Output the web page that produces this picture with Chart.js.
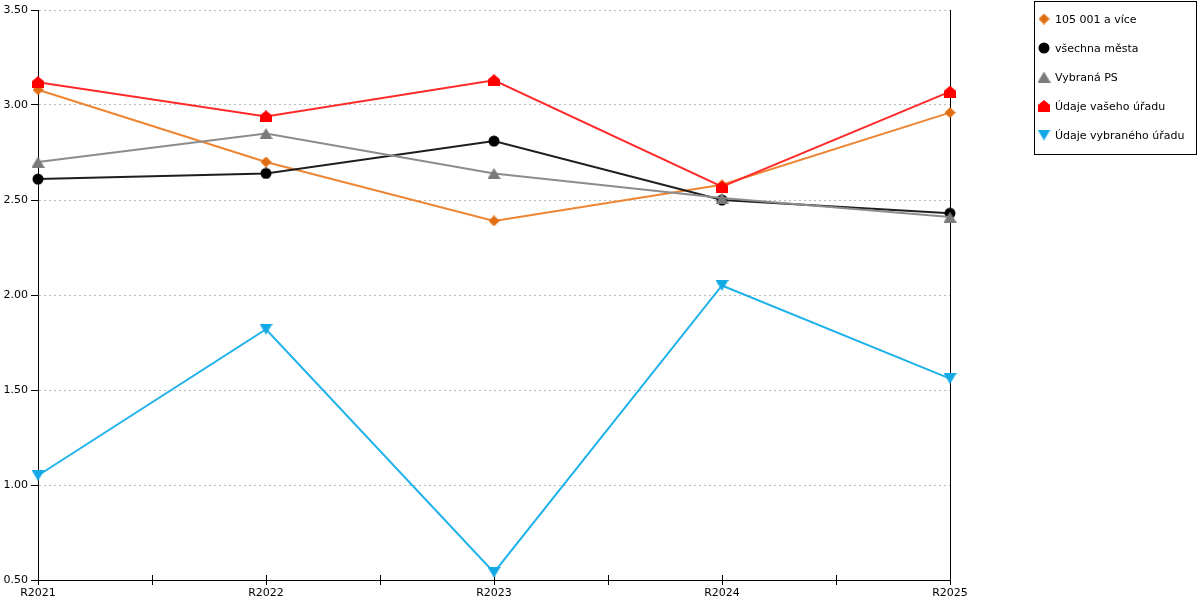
<!DOCTYPE html>
<html lang="cs">
<head>
    <meta charset="UTF-8">
    <title>Vývoj ukazatele R2021 - R2025</title>
    <script src="https://cdn.jsdelivr.net/npm/chart.js"></script>
    <style>
        html, body { margin: 0; padding: 0; background: #fff; }
        #wrap { width: 1200px; height: 600px; }
    </style>
</head>
<body>
    <div id="wrap">
        <canvas id="myChart" width="1200" height="600"></canvas>
    </div>

    <script>
        // Data
        var years = ['R2021', 'R2022', 'R2023', 'R2024', 'R2025'];
        var seriesNames = ['105 001 a více', 'všechna města', 'Vybraná PS', 'Údaje vašeho úřadu', 'Údaje vybraného úřadu'];
        var velkaMesta = [3.08, 2.70, 2.39, 2.58, 2.96];
        var vsechnaMesta = [2.61, 2.64, 2.81, 2.50, 2.43];
        var vybranaPS = [2.70, 2.85, 2.64, 2.51, 2.41];
        var vasUrad = [3.12, 2.94, 3.13, 2.57, 3.07];
        var vybranyUrad = [1.05, 1.82, 0.54, 2.05, 1.56];
        var yTicks = [0.5, 1.0, 1.5, 2.0, 2.5, 3.0, 3.5];

        var FONT = 'DejaVu Sans';

        // Small canvases used as point markers (chart + legend)
        function makeMarker(w, h, color, path) {
            var c = document.createElement('canvas');
            c.width = w;
            c.height = h;
            var g = c.getContext('2d');
            g.fillStyle = color;
            g.beginPath();
            path(g, w, h);
            g.closePath();
            g.fill();
            return c;
        }

        var diamond = makeMarker(11, 11, '#e06d10', function (g, w, h) {
            g.moveTo(w / 2, 0); g.lineTo(w, h / 2); g.lineTo(w / 2, h); g.lineTo(0, h / 2);
        });
        var circle = makeMarker(12, 12, '#000000', function (g, w, h) {
            g.arc(w / 2, h / 2, 5.5, 0, Math.PI * 2);
        });
        var triUp = makeMarker(13, 11, '#7a7a7a', function (g, w, h) {
            g.moveTo(w / 2, 0); g.lineTo(w, h); g.lineTo(0, h);
        });
        var house = makeMarker(12, 12, '#ff0000', function (g, w, h) {
            g.moveTo(w / 2, 0); g.lineTo(w, 5); g.lineTo(w, h); g.lineTo(0, h); g.lineTo(0, 5);
        });
        var triDown = makeMarker(13, 11, '#12a9e6', function (g, w, h) {
            g.moveTo(0, 0); g.lineTo(w, 0); g.lineTo(w / 2, h);
        });

        function line(label, data, color, marker, order) {
            return {
                label: label,
                data: data,
                borderColor: color,
                borderWidth: 2,
                pointStyle: marker,
                pointRadius: 6,
                tension: 0,
                fill: false,
                clip: false,
                order: order
            };
        }

        // Box legend on the right
        var boxLegend = {
            id: 'boxLegend',
            afterDraw: function (chart) {
                var ctx = chart.ctx;
                ctx.save();
                ctx.strokeStyle = '#000';
                ctx.lineWidth = 1;
                ctx.strokeRect(1034.5, 1.5, 162, 153);
                ctx.font = '11px "' + FONT + '"';
                ctx.fillStyle = '#000';
                ctx.textBaseline = 'middle';
                chart.data.datasets.forEach(function (ds, i) {
                    var y = 19 + i * 29;
                    var m = ds.pointStyle;
                    ctx.drawImage(m, 1044 - m.width / 2, y - m.height / 2);
                    ctx.fillText(ds.label, 1055, y + 1);
                });
                ctx.restore();
            }
        };

        // Crossing tick marks on x axis and the right frame line
        var xFrame = {
            id: 'xFrame',
            beforeDatasetsDraw: function (chart) {
                var ctx = chart.ctx;
                var area = chart.chartArea;
                var xs = chart.scales.x;
                ctx.save();
                ctx.strokeStyle = '#000';
                ctx.lineWidth = 1;
                ctx.beginPath();
                for (var i = 0; i < years.length; i++) {
                    var px = Math.round(xs.getPixelForValue(i)) + 0.5;
                    ctx.moveTo(px, area.bottom - 5);
                    ctx.lineTo(px, area.bottom + 5);
                    if (i < years.length - 1) {
                        var mx = Math.round((xs.getPixelForValue(i) + xs.getPixelForValue(i + 1)) / 2) + 0.5;
                        ctx.moveTo(mx, area.bottom - 5);
                        ctx.lineTo(mx, area.bottom + 5);
                    }
                }
                var rx = Math.round(area.right) + 0.5;
                ctx.moveTo(rx, area.top);
                ctx.lineTo(rx, area.bottom);
                ctx.stroke();
                ctx.restore();
            }
        };

        function createChart() {
            var ctx = document.getElementById('myChart').getContext('2d');
            new Chart(ctx, {
                type: 'line',
                data: {
                    labels: years,
                    datasets: [
                        line(seriesNames[0], velkaMesta, '#ee8532', diamond, 4),
                        line(seriesNames[1], vsechnaMesta, '#1e1e1e', circle, 3),
                        line(seriesNames[2], vybranaPS, '#8c8c8c', triUp, 2),
                        line(seriesNames[3], vasUrad, '#ff2b2b', house, 1),
                        line(seriesNames[4], vybranyUrad, '#1fb2ea', triDown, 0)
                    ]
                },
                options: {
                    responsive: false,
                    animation: false,
                    layout: { padding: { top: 10, right: 250, left: 0, bottom: 0 } },
                    plugins: {
                        legend: { display: false },
                        tooltip: { enabled: false }
                    },
                    scales: {
                        x: {
                            offset: false,
                            grid: { display: false, drawTicks: false },
                            border: { color: '#000', width: 1 },
                            ticks: {
                                autoSkip: false,
                                maxRotation: 0,
                                padding: 7,
                                color: '#000',
                                font: { family: FONT, size: 11 }
                            },
                            afterFit: function (scale) { scale.height = 20; }
                        },
                        y: {
                            min: yTicks[0],
                            max: yTicks[yTicks.length - 1],
                            afterBuildTicks: function (scale) {
                                scale.ticks = yTicks.map(function (v) { return { value: v }; });
                            },
                            grid: {
                                color: '#bbbbbb',
                                tickColor: '#000',
                                tickLength: 7,
                                tickBorderDash: []
                            },
                            border: { color: '#000', width: 1, dash: [2, 3] },
                            ticks: {
                                padding: 3,
                                color: '#000',
                                font: { family: FONT, size: 11 },
                                callback: function (v) { return Number(v).toFixed(2); }
                            },
                            afterFit: function (scale) { scale.width = 38; }
                        }
                    }
                },
                plugins: [xFrame, boxLegend]
            });
        }

        createChart();
    </script>
</body>
</html>
